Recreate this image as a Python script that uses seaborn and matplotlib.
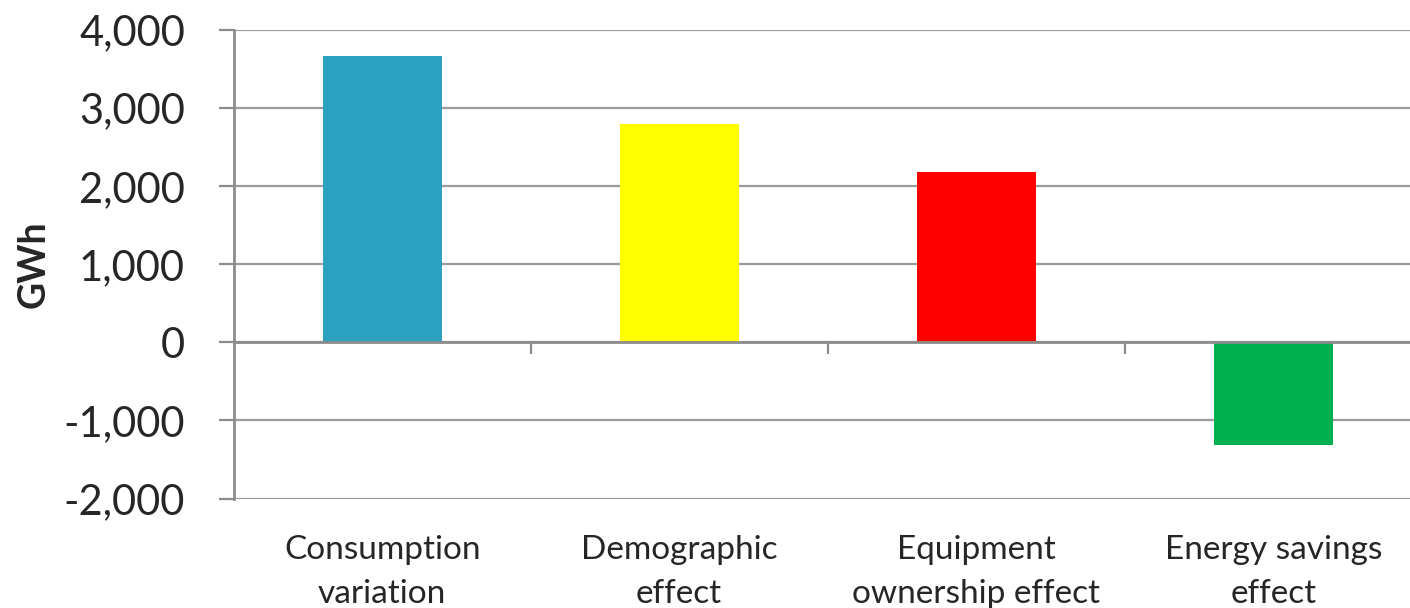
import matplotlib
matplotlib.use("Agg")
import matplotlib.pyplot as plt
from matplotlib.ticker import FuncFormatter, FixedLocator
import seaborn as sns
import pandas as pd

# Decomposition of residential electricity consumption change (GWh)
categories = [
    "Consumption\nvariation",
    "Demographic\neffect",
    "Equipment\nownership effect",
    "Energy savings\neffect",
]
values = [3670, 2800, 2185, -1320]
colors = ["#2ca1bf", "#ffff00", "#ff0000", "#00b050"]
y_ticks = [-2000, -1000, 0, 1000, 2000, 3000, 4000]

df = pd.DataFrame({"category": categories, "gwh": values})

sns.set_theme(style="white")
plt.rcParams["font.family"] = ["Lato", "DejaVu Sans"]

fig = plt.figure(figsize=(14.10, 6.08), dpi=100)
ax = fig.add_axes([0.1657, 0.180, 0.8426, 0.7706])

sns.barplot(
    data=df, x="category", y="gwh", hue="category",
    palette=colors, width=0.4, legend=False, ax=ax,
    saturation=1, edgecolor="none", linewidth=0,
)

grey = "#8c8c8c"
ax.set_ylim(y_ticks[0], y_ticks[-1])
ax.set_xlim(-0.5, len(categories) - 0.5)
ax.set_yticks(y_ticks)
ax.yaxis.set_major_formatter(FuncFormatter(lambda v, _: f"{int(v):,}"))
ax.yaxis.grid(True, color="#9a9a9a", linewidth=1.6)
ax.set_axisbelow(True)

# Category axis sits on the zero line; separators between categories
ax.spines["bottom"].set_position(("data", 0))
ax.spines["bottom"].set_color(grey)
ax.spines["bottom"].set_linewidth(2)
ax.spines["left"].set_color(grey)
ax.spines["left"].set_linewidth(2)
ax.spines["top"].set_visible(False)
ax.spines["right"].set_visible(False)

ax.xaxis.set_minor_locator(FixedLocator([0.5, 1.5, 2.5]))
ax.tick_params(axis="x", which="minor", direction="out", length=8.5,
               width=1.6, color=grey, bottom=True)
ax.tick_params(axis="x", which="major", length=0, pad=139, labelsize=24)
ax.tick_params(axis="y", which="major", direction="out", length=11,
               width=1.6, color=grey, left=True, pad=24, labelsize=30)
for lbl in ax.get_xticklabels():
    lbl.set_linespacing(1.55)

ax.set_xlabel("")
ax.set_ylabel("GWh", fontsize=27, fontweight="bold", labelpad=9)

fig.savefig("out.png", dpi=100, facecolor="white")
